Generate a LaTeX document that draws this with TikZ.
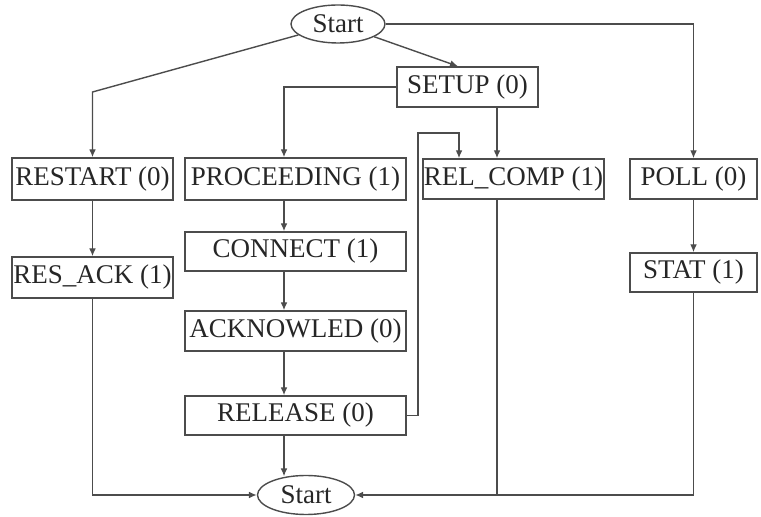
\documentclass[tikz,border=0pt]{standalone}
\usepackage{fontspec}
\setmainfont{Liberation Serif}
\usetikzlibrary{positioning,arrows.meta,shapes.geometric}

\begin{document}
\begin{tikzpicture}[
    x=0.5pt, y=-0.5pt,
    font=\fontsize{13.5}{15}\selectfont,
    state/.style={draw=black!70, line width=0.7pt, minimum height=20pt,
                  inner sep=0pt, text=black!85},
    ends/.style={ellipse, draw=black!70, line width=0.7pt, inner sep=0pt,
                 minimum width=47pt, minimum height=19pt, text=black!85},
    flow/.style={-{Latex[length=4pt,width=3.4pt]}, draw=black!70, line width=0.7pt},
    link/.style={draw=black!70, line width=0.7pt},
  ]
  \useasboundingbox (0,0) rectangle (761,517);

  % --- Columns used by the connectors ------------------------------------
  \coordinate (midcol)   at (284,0);
  \coordinate (setupcol) at (497,0);
  \coordinate (loopcol)  at (459,0);
  \coordinate (loopturn) at (418,133);

  % --- Start -------------------------------------------------------------
  \node[ends] (start) at (338,24) {Start};
  \node[state, minimum width=70.5pt] (setup) at (467.5,87) {SETUP (0)};

  % --- First row ---------------------------------------------------------
  \node[state, minimum width=80.5pt, minimum height=21pt] (restart) at (92.5,179)
    {RESTART (0)};
  \node[state, minimum width=110.5pt, minimum height=21pt] (proceeding) at (295.5,179)
    {PROCEEDING (1)};
  \node[state, minimum width=90.5pt] (relcomp) at (513.5,179) {REL\_COMP (1)};
  \node[state, minimum width=63.5pt] (poll) at (693.5,179) {POLL (0)};

  % --- Lower rows --------------------------------------------------------
  \node[state, minimum width=80.5pt, minimum height=20.5pt] (resack) at (92.5,277.5)
    {RES\_ACK (1)};
  \node[state, minimum width=110.5pt, minimum height=19.5pt] (connect) at (295.5,251.5)
    {CONNECT (1)};
  \node[state, minimum width=63.5pt, minimum height=19.5pt] (stat) at (693.5,272.5)
    {STAT (1)};
  \node[state, minimum width=110.5pt] (acknowled) at (295.5,331) {ACKNOWLED (0)};
  \node[state, minimum width=110.5pt, minimum height=19.5pt] (release) at (295.5,415.5)
    {RELEASE (0)};

  % --- End ---------------------------------------------------------------
  \node[ends, minimum width=48.5pt, minimum height=19.5pt] (stop) at (306,495) {Start};

  % --- Arrows ------------------------------------------------------------
  \draw[flow] (start) -- (restart |- 0,92) -- (restart);
  \draw[flow] (start) -- (setup.north -| 458,0);
  \draw[flow] (start) -| (poll);
  \draw[flow] (setup) -| (proceeding.north -| midcol);
  \draw[flow] (setup.south -| setupcol) -- (relcomp.north -| setupcol);

  \draw[flow] (restart) -- (resack);
  \draw[flow] (proceeding.south -| midcol) -- (connect.north -| midcol);
  \draw[flow] (connect.south -| midcol) -- (acknowled.north -| midcol);
  \draw[flow] (acknowled.south -| midcol) -- (release.north -| midcol);
  \draw[flow] (poll) -- (stat);

  \draw[flow] (release.east) -| (loopturn) -| (relcomp.north -| loopcol);
  \draw[flow, shorten >=-0.8pt] (release.south -| midcol) -- (stop.north -| midcol);

  \draw[flow] (resack) |- (stop);
  \draw[flow] (stat) |- (stop);
  \draw[link] (relcomp.south -| setupcol) -- (setupcol |- stop);

\end{tikzpicture}
\end{document}
